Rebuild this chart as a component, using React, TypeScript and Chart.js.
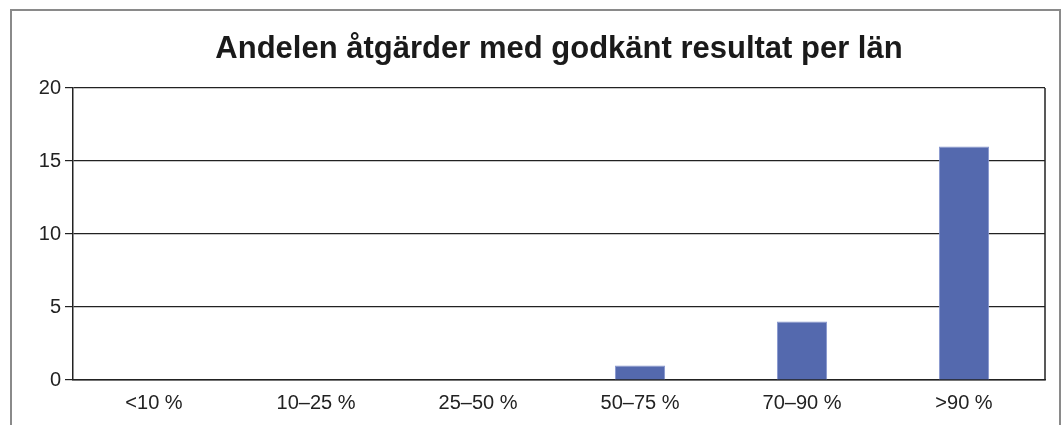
import React, { useEffect, useRef } from "react";
import { Chart, registerables } from "chart.js";

Chart.register(...registerables);

const categories = ["<10 %", "10–25 %", "25–50 %", "50–75 %", "70–90 %", ">90 %"];
const counts = [0, 0, 0, 1, 4, 16];
const yTicks = [0, 5, 10, 15, 20];
const titleText = "Andelen åtgärder med godkänt resultat per län";

const FONT = "'Liberation Sans', Arial, sans-serif";

const framePlugin = {
  id: "frame",
  afterDraw(chart: any) {
    const ctx = chart.ctx;
    const a = chart.chartArea;
    ctx.save();
    ctx.strokeStyle = "#8a8a8a";
    ctx.lineWidth = 2;
    ctx.beginPath();
    ctx.moveTo(11, 440);
    ctx.lineTo(11, 10);
    ctx.lineTo(1060, 10);
    ctx.lineTo(1060, 440);
    ctx.stroke();
    ctx.strokeStyle = "#222";
    ctx.lineWidth = 1.5;
    ctx.beginPath();
    ctx.moveTo(a.right, a.top);
    ctx.lineTo(a.right, a.bottom);
    ctx.stroke();
    // title centred over the plot area
    ctx.fillStyle = "#1a1a1a";
    ctx.font = `bold 31px ${FONT}`;
    ctx.textAlign = "center";
    ctx.textBaseline = "alphabetic";
    ctx.fillText(titleText, (a.left + a.right) / 2, 58);
    ctx.restore();
  },
};

export default function App() {
  const ref = useRef<HTMLCanvasElement>(null);
  useEffect(() => {
    const chart = new Chart(ref.current!, {
      type: "bar",
      data: {
        labels: categories,
        datasets: [
          {
            data: counts,
            backgroundColor: "#5469ae",
            borderColor: "#8797cf",
            borderWidth: 1,
            categoryPercentage: 1,
            barPercentage: 0.31,
          },
        ],
      },
      options: {
        animation: false,
        responsive: false,
        layout: { padding: { left: 0, right: 16, top: 88, bottom: 0 } },
        plugins: {
          legend: { display: false },
          tooltip: { enabled: false },
          title: { display: false },
        },
        scales: {
          x: {
            grid: { display: false },
            border: { display: true, color: "#222", width: 1.5 },
            ticks: {
              color: "#222",
              padding: 3,
              font: { family: FONT, size: 20 },
              maxRotation: 0,
            },
            afterFit(scale: any) {
              scale.height = 45;
            },
          },
          y: {
            min: 0,
            max: 20,
            afterBuildTicks(scale: any) {
              scale.ticks = yTicks.map((v) => ({ value: v }));
            },
            grid: { color: "#222", lineWidth: 1.2, tickLength: 8, drawTicks: true },
            border: { display: true, color: "#222", width: 1.5 },
            ticks: {
              color: "#222",
              padding: 4,
              font: { family: FONT, size: 20 },
            },
            afterFit(scale: any) {
              scale.width = 73;
            },
          },
        },
      },
      plugins: [framePlugin],
    });
    return () => chart.destroy();
  }, []);
  return (
    <div style={{ position: "absolute", left: 0, top: 0, width: 1061, height: 425, background: "#fff" }}>
      <canvas ref={ref} width={1061} height={425} style={{ display: "block" }} />
    </div>
  );
}
